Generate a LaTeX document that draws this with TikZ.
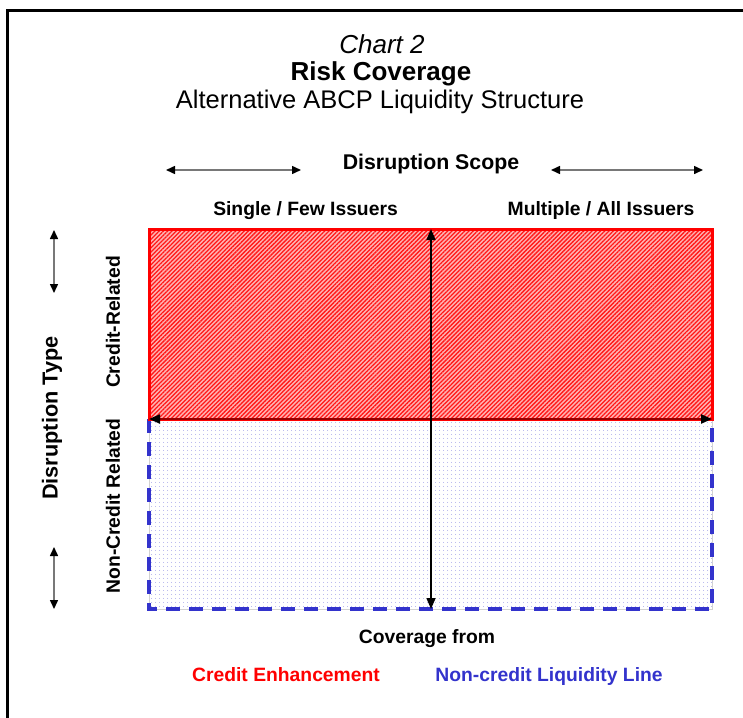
\documentclass[tikz,border=0pt]{standalone}
\usepackage{fontspec}
\setmainfont{Liberation Sans}
\usetikzlibrary{arrows.meta,patterns.meta}

\definecolor{lineblue}{RGB}{51,51,204}
\definecolor{dividerred}{RGB}{150,0,0}
\definecolor{shaftgray}{RGB}{120,120,120}

\tikzset{
  label text/.style={inner sep=0pt, font=\fontsize{19.3}{20}\selectfont\bfseries},
  scope arrow/.style={shaftgray, line width=1.5pt,
    {Triangle[length=9pt,width=8pt,color=black]}-{Triangle[length=9pt,width=8pt,color=black]}},
  main arrow/.style={black, line width=1.5pt,
    {Triangle[length=11pt,width=9pt]}-{Triangle[length=11pt,width=9pt]}},
  divider arrow/.style={dividerred, line width=2.2pt,
    {Triangle[length=11pt,width=9pt,color=black]}-{Triangle[length=11pt,width=9pt,color=black]}},
}

\begin{document}
\begin{tikzpicture}[x=1pt,y=-1pt]
\useasboundingbox (0,0) rectangle (743,717);
\clip (0,0) rectangle (743,717);

% frame (top and left edges, the rest runs off the page)
\draw[line width=3pt] (770,10.5) -- (7.5,10.5) -- (7.5,740);

% corner points of the two coverage regions
\coordinate (tl) at (149,229);
\coordinate (tr) at (712,229);
\coordinate (ml) at (149,419);
\coordinate (mr) at (712,419);
\coordinate (bl) at (149,609);
\coordinate (br) at (712,609);

% lower region: non-credit liquidity line
\fill[pattern={Dots[distance=4pt,radius=0.6pt]}, pattern color=lineblue!45] (ml) rectangle (br);
\draw[gray!35, line width=0.8pt] (ml) -- (bl) -- (br) -- (mr);
\draw[lineblue, line width=3.2pt, dash pattern=on 14pt off 9pt] (ml) -- (bl) -- (br) -- (mr);

% upper region: credit enhancement
\fill[red!30] (tl) rectangle (mr);
\fill[pattern={Lines[angle=45,distance=3pt,line width=1.3pt]}, pattern color=red!90] (tl) rectangle (mr);
\draw[red, line width=3pt] (tl) rectangle (mr);

% divider and coverage arrow
\draw[divider arrow] (ml) -- (mr);
\coordinate (ctop) at (431,229);
\coordinate (cbot) at (431,609);
\draw[main arrow] (ctop) -- (cbot);

% titles
\node[anchor=base, inner sep=0pt, font=\fontsize{26}{26}\selectfont\itshape] (chart) at (382,53) {Chart 2};
\node[anchor=base, inner sep=0pt, font=\fontsize{26}{26}\selectfont\bfseries] (title) at (381,80) {Risk Coverage};
\node[anchor=base, inner sep=0pt, font=\fontsize{25.5}{26}\selectfont] (subtitle) at (380,108) {Alternative ABCP Liquidity Structure};

% disruption scope axis
\node[anchor=base, inner sep=0pt, font=\fontsize{21.3}{22}\selectfont\bfseries] (scope) at (431,169) {Disruption Scope};
\coordinate (sl1) at (166,170);
\coordinate (sl2) at (301,170);
\coordinate (sr1) at (551,170);
\coordinate (sr2) at (703,170);
\draw[scope arrow] (sl1) -- (sl2);
\draw[scope arrow] (sr1) -- (sr2);
\node[label text, anchor=base] (single) at (305.5,215) {Single / Few Issuers};
\node[label text, anchor=base] (multiple) at (601,215) {Multiple / All Issuers};

% disruption type axis
\node[inner sep=0pt, rotate=90, font=\fontsize{21.7}{22}\selectfont\bfseries] (dtype) at (52,418) {Disruption Type};
\coordinate (tu1) at (54,230);
\coordinate (tu2) at (54,293);
\coordinate (td1) at (54,547);
\coordinate (td2) at (54,609);
\draw[scope arrow] (tu1) -- (tu2);
\draw[scope arrow] (td1) -- (td2);
\node[label text, rotate=90] (creditrel) at (113,322) {Credit-Related};
\node[label text, rotate=90] (noncreditrel) at (113,506) {Non-Credit Related};

% coverage legend
\node[label text, anchor=base] (from) at (427,643) {Coverage from};
\node[label text, anchor=base, text=red] (ce) at (286,681) {Credit Enhancement};
\node[label text, anchor=base, text=lineblue] (ncl) at (549,681) {Non-credit Liquidity Line};
\end{tikzpicture}
\end{document}
